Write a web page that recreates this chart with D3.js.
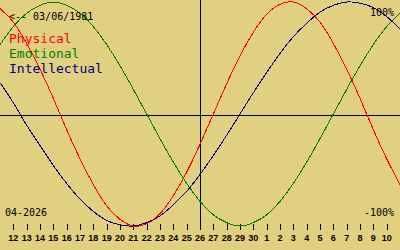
<!DOCTYPE html>
<html>
<head>
<meta charset="utf-8">
<script src="https://cdn.jsdelivr.net/npm/d3@7"></script>
<style>
  body { margin: 0; background: #e0d080; }
  svg { display: block; }
</style>
</head>
<body>
<svg class="bio" width="400" height="250"></svg>
<script>
// jours affichés : 11 avril -> 11 mai 2026 (centre = 26)
const days = [11, 12, 13, 14, 15, 16, 17, 18, 19, 20, 21, 22, 23, 24, 25, 26, 27, 28, 29, 30,
              1, 2, 3, 4, 5, 6, 7, 8, 9, 10, 11];

// valeurs (%)
const physical = [94, 82, 63, 40, 14, -14, -40, -63, -82, -94, -100, -98, -89, -73, -52, -27,
                  0, 27, 52, 73, 89, 98, 100, 94, 82, 63, 40, 14, -14, -40, -63];
const emotional = [62, 78, 90, 97, 100, 97, 90, 78, 62, 43, 22, 0, -22, -43, -62, -78,
                   -90, -97, -100, -97, -90, -78, -62, -43, -22, 0, 22, 43, 62, 78, 90];
const intellectual = [28, 10, -10, -28, -46, -62, -76, -87, -95, -99, -100, -97, -91, -81, -69, -54,
                      -37, -19, 0, 19, 37, 54, 69, 81, 91, 97, 100, 99, 95, 87, 76];

const names = ["Physical", "Emotional", "Intellectual"];
const colors = ["#ff0000", "#008000", "#000080"];
const series = [physical, emotional, intellectual];

const birth = "<-- 03/06/1981";
const month = "04-2026";
const centerIndex = 15;

const W = 400, H = 250;
const svg = d3.select(".bio");

const x = d3.scaleLinear().domain([0, days.length - 1]).range([0, W]);
const y = d3.scaleLinear().domain([-100, 100]).range([226, 2]);

svg.append("rect")
  .attr("width", W).attr("height", H)
  .attr("fill", "#e0d080");

// axes centraux
svg.append("line")
  .attr("x1", 0).attr("x2", W)
  .attr("y1", y(0) + 1).attr("y2", y(0) + 1)
  .attr("stroke", "black").attr("shape-rendering", "crispEdges");

svg.append("line")
  .attr("x1", x(centerIndex)).attr("x2", x(centerIndex))
  .attr("y1", 0).attr("y2", 228)
  .attr("stroke", "black").attr("shape-rendering", "crispEdges");

// graduations du bas
const ticks = d3.range(1, days.length - 1);
const gTicks = svg.append("g");
gTicks.selectAll("line")
  .data(ticks)
  .enter()
  .append("line")
  .attr("x1", d => Math.round(x(d)) + 0.5)
  .attr("x2", d => Math.round(x(d)) + 0.5)
  .attr("y1", 224)
  .attr("y2", 230)
  .attr("stroke", "black")
  .attr("shape-rendering", "crispEdges");

gTicks.selectAll("text")
  .data(ticks)
  .enter()
  .append("text")
  .attr("x", d => x(d))
  .attr("y", 241)
  .attr("text-anchor", "middle")
  .attr("font-family", "Liberation Sans")
  .attr("font-weight", "bold")
  .attr("font-size", 9)
  .text(d => days[d]);

// courbes
const line = d3.line()
  .x((d, i) => x(i))
  .y(d => y(d))
  .curve(d3.curveNatural);

svg.selectAll("path.bio")
  .data(series)
  .enter()
  .append("path")
  .attr("class", "bio")
  .attr("d", d => line(d))
  .attr("fill", "none")
  .attr("stroke", (d, i) => colors[i])
  .attr("stroke-width", 1)
  .attr("shape-rendering", "crispEdges");

// textes
const mono = "DejaVu Sans Mono";

svg.append("text")
  .text(birth)
  .attr("x", 9).attr("y", 20)
  .attr("font-family", mono).attr("font-size", 10);

svg.selectAll("text.legend")
  .data(names)
  .enter()
  .append("text")
  .attr("class", "legend")
  .attr("x", 9)
  .attr("y", (d, i) => 43 + i * 15)
  .attr("font-family", mono)
  .attr("font-size", 13)
  .attr("fill", (d, i) => colors[i])
  .text(d => d);

svg.append("text")
  .text("100%")
  .attr("x", 394).attr("y", 16)
  .attr("text-anchor", "end")
  .attr("font-family", mono).attr("font-size", 10);

svg.append("text")
  .text("-100%")
  .attr("x", 394).attr("y", 216)
  .attr("text-anchor", "end")
  .attr("font-family", mono).attr("font-size", 10);

svg.append("text")
  .text(month)
  .attr("x", 5).attr("y", 216)
  .attr("font-family", mono).attr("font-size", 10);
</script>
</body>
</html>
